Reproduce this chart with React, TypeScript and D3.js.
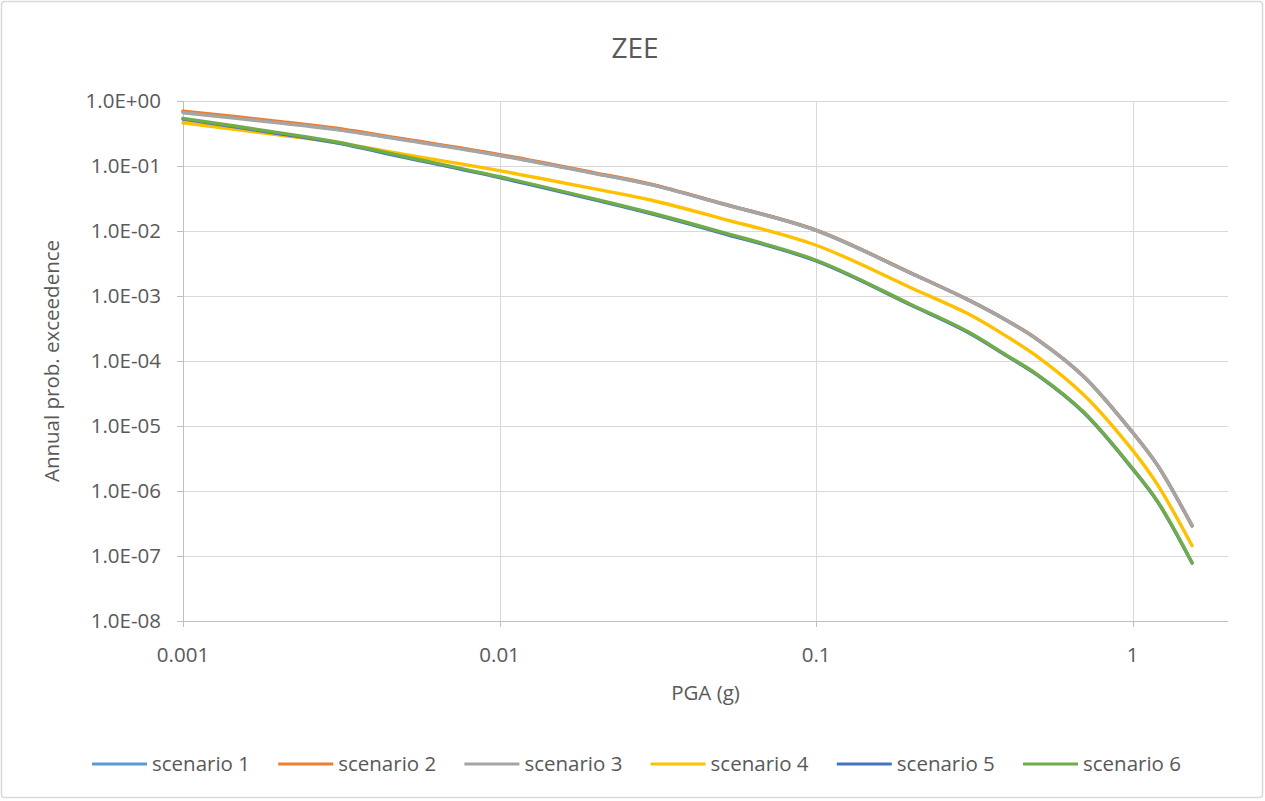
import React from "react";
import * as d3 from "d3";

const pga = [0.001, 0.002, 0.003, 0.005, 0.01, 0.02, 0.03, 0.05, 0.1, 0.2, 0.3, 0.4, 0.5, 0.7, 1.0, 1.2, 1.54];

const scenario1 = [0.68, 0.47, 0.373, 0.255, 0.147, 0.0772, 0.052, 0.0266, 0.01025, 0.00223, 8.87e-4, 4.21e-4, 2.14e-4, 5.78e-5, 7.9e-6, 2.45e-6, 2.9e-7];
const scenario2 = [0.70, 0.485, 0.384, 0.26, 0.150, 0.0783, 0.0526, 0.0268, 0.0103, 0.00224, 8.9e-4, 4.22e-4, 2.15e-4, 5.79e-5, 7.94e-6, 2.46e-6, 2.93e-7];
const scenario3 = [0.66, 0.46, 0.366, 0.25, 0.145, 0.0765, 0.0516, 0.0265, 0.0102, 0.00222, 8.85e-4, 4.2e-4, 2.14e-4, 5.78e-5, 7.94e-6, 2.46e-6, 2.93e-7];
const scenario4 = [0.463, 0.302, 0.232, 0.151, 0.0849, 0.0444, 0.03, 0.0157, 0.00604, 0.00133, 5.41e-4, 2.39e-4, 1.17e-4, 3.03e-5, 4.21e-6, 1.23e-6, 1.44e-7];
const scenario5 = [0.525, 0.316, 0.231, 0.136, 0.0665, 0.0302, 0.0186, 0.0094, 0.00346, 7.2e-4, 2.8e-4, 1.2e-4, 6.05e-5, 1.61e-5, 2.17e-6, 6.75e-7, 7.8e-8];
const scenario6 = [0.541, 0.326, 0.238, 0.14, 0.0684, 0.031, 0.0191, 0.0097, 0.00355, 7.35e-4, 2.86e-4, 1.22e-4, 6.17e-5, 1.64e-5, 2.21e-6, 6.87e-7, 7.88e-8];

const seriesNames = ["scenario 1", "scenario 2", "scenario 3", "scenario 4", "scenario 5", "scenario 6"];
const seriesColors = ["#5B9BD5", "#ED7D31", "#A5A5A5", "#FFC000", "#4472C4", "#70AD47"];
const seriesValues = [scenario1, scenario2, scenario3, scenario4, scenario5, scenario6];

const xTicks = [0.001, 0.01, 0.1, 1];
const xTickLabels = ["0.001", "0.01", "0.1", "1"];
const yTicks = [1, 1e-1, 1e-2, 1e-3, 1e-4, 1e-5, 1e-6, 1e-7, 1e-8];
const yTickLabels = ["1.0E+00", "1.0E-01", "1.0E-02", "1.0E-03", "1.0E-04", "1.0E-05", "1.0E-06", "1.0E-07", "1.0E-08"];

const W = 1265;
const H = 801;
const left = 183;
const right = 1228;
const top = 101;
const bottom = 621;
const font = "'Open Sans', sans-serif";
const textColor = "#595959";
const gridColor = "#d9d9d9";

export default function App() {
  const x = d3.scaleLog().domain([0.001, 2]).range([left, right]);
  const y = d3.scaleLog().domain([1e-8, 1]).range([bottom, top]);
  const line = d3
    .line<number>()
    .x((_, i) => x(pga[i]))
    .y((d) => y(d))
    .curve(d3.curveCatmullRom.alpha(0.5));

  const legendStart = 92;
  const legendStep = 186.2;
  const legendY = 764;

  return (
    <svg
      width={W}
      height={H}
      style={{ position: "absolute", left: 0, top: 0, background: "#fff" }}
      fontFamily={font}
    >
      <rect x={1.5} y={1.5} width={W - 4} height={H - 5} fill="#fff" stroke={gridColor} strokeWidth={1.5} rx={3} />
      <text x={635} y={58} textAnchor="middle" fontSize={28} fill={textColor}>
        ZEE
      </text>
      {yTicks.slice(0, -1).map((t) => (
        <line key={"gy" + t} x1={left} x2={right} y1={Math.round(y(t)) + 0.5} y2={Math.round(y(t)) + 0.5} stroke={gridColor} strokeWidth={1} />
      ))}
      {xTicks.slice(1).map((t) => (
        <line key={"gx" + t} x1={Math.round(x(t)) + 0.5} x2={Math.round(x(t)) + 0.5} y1={top} y2={bottom} stroke={gridColor} strokeWidth={1} />
      ))}
      <line x1={left} x2={right} y1={bottom + 0.5} y2={bottom + 0.5} stroke="#bfbfbf" strokeWidth={1} />
      <line x1={left + 0.5} x2={left + 0.5} y1={top} y2={bottom} stroke="#bfbfbf" strokeWidth={1} />
      {yTicks.map((t) => (
        <line key={"ty" + t} x1={left - 6} x2={left} y1={Math.round(y(t)) + 0.5} y2={Math.round(y(t)) + 0.5} stroke="#bfbfbf" />
      ))}
      {xTicks.map((t) => (
        <line key={"tx" + t} x1={Math.round(x(t)) + 0.5} x2={Math.round(x(t)) + 0.5} y1={bottom} y2={bottom + 6} stroke="#bfbfbf" />
      ))}
      {yTicks.map((t, i) => (
        <text key={"ly" + t} x={161} y={y(t)} dy="0.35em" textAnchor="end" fontSize={20.5} fill={textColor}>
          {yTickLabels[i]}
        </text>
      ))}
      {xTicks.map((t, i) => (
        <text key={"lx" + t} x={x(t)} y={662} textAnchor="middle" fontSize={20.5} fill={textColor}>
          {xTickLabels[i]}
        </text>
      ))}
      <text x={(left + right) / 2} y={700} textAnchor="middle" fontSize={20.5} fill={textColor}>
        PGA (g)
      </text>
      <text
        transform={`translate(59, ${(top + bottom) / 2}) rotate(-90)`}
        textAnchor="middle"
        fontSize={20.5}
        fill={textColor}
      >
        Annual prob. exceedence
      </text>
      {seriesValues.map((vals, i) => (
        <path
          key={seriesNames[i]}
          d={line(vals) || ""}
          fill="none"
          stroke={seriesColors[i]}
          strokeWidth={3.4}
          strokeLinecap="round"
          strokeLinejoin="round"
        />
      ))}
      {seriesNames.map((name, i) => {
        const lx = legendStart + i * legendStep;
        return (
          <g key={"lg" + name}>
            <line x1={lx} x2={lx + 55} y1={legendY} y2={legendY} stroke={seriesColors[i]} strokeWidth={3.2} />
            <text x={lx + 60} y={legendY} dy="0.35em" fontSize={20.5} fill={textColor}>
              {name}
            </text>
          </g>
        );
      })}
    </svg>
  );
}
